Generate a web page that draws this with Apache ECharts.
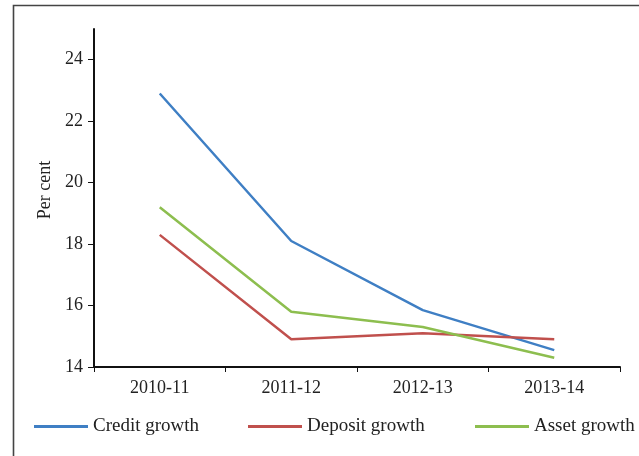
<!DOCTYPE html>
<html><head><meta charset="utf-8">
<script src="https://cdn.jsdelivr.net/npm/echarts@6/dist/echarts.min.js"></script>
<style>html,body{margin:0;padding:0;background:#fff}#c{width:639px;height:456px}</style>
</head><body><div id="c"></div>
<script>
var categories = ['2010-11', '2011-12', '2012-13', '2013-14'];
var creditGrowth = [22.9, 18.1, 15.85, 14.55];
var depositGrowth = [18.3, 14.9, 15.1, 14.9];
var assetGrowth = [19.2, 15.8, 15.3, 14.3];
var yTicks = [14, 16, 18, 20, 22, 24];
var seriesNames = ['Credit growth', 'Deposit growth', 'Asset growth'];
var colors = ['#3F7FC4', '#C0504D', '#8DBE4F'];

var FONT = 'Liberation Serif';
var chart = echarts.init(document.getElementById('c'));
var dataSets = [creditGrowth, depositGrowth, assetGrowth];
var legendLefts = [34, 248, 475];
chart.setOption({
  animation: false,
  textStyle: {fontFamily: FONT},
  graphic: [{type: 'rect', shape: {x: 13.5, y: 5.5, width: 700, height: 600},
    style: {fill: 'none', stroke: '#444', lineWidth: 1.6}, silent: true}],
  grid: {left: 94, top: 29, right: 19, bottom: 89},
  xAxis: {
    type: 'category', data: categories, boundaryGap: true,
    axisLine: {lineStyle: {color: '#111', width: 2}},
    axisTick: {show: true, length: 5, lineStyle: {color: '#111', width: 1}},
    axisLabel: {color: '#222', fontSize: 18, fontFamily: FONT, margin: 12},
    splitLine: {show: false}
  },
  yAxis: {
    type: 'value', min: 14, max: 25, interval: 1,
    name: 'Per cent', nameLocation: 'middle', nameGap: 35, nameRotate: 90,
    nameTextStyle: {color: '#222', fontSize: 18, fontFamily: FONT, padding: [0, 0, 0, 16]},
    axisLine: {show: true, lineStyle: {color: '#111', width: 2}},
    axisTick: {show: true, length: 6, customValues: yTicks, lineStyle: {color: '#111', width: 1}},
    axisLabel: {color: '#222', fontSize: 18, fontFamily: FONT, margin: 11, customValues: yTicks},
    splitLine: {show: false}
  },
  legend: seriesNames.map(function (n, i) {
    return {data: [n], left: legendLefts[i], top: 417, padding: 0, icon: 'rect', itemWidth: 54, itemHeight: 3,
      textStyle: {color: '#222', fontSize: 19, fontFamily: FONT}, selectedMode: false};
  }),
  series: seriesNames.map(function (n, i) {
    return {name: n, type: 'line', data: dataSets[i], symbol: 'none',
      lineStyle: {color: colors[i], width: 2.5}, itemStyle: {color: colors[i]}};
  })
});
</script></body></html>
